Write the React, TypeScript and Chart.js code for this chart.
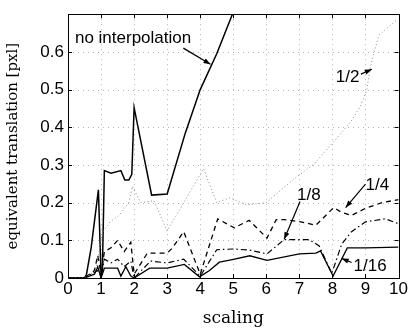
import React, { useEffect, useRef } from "react";
import { Chart, registerables } from "chart.js";

Chart.register(...registerables);

// ---- data ----
const xTickValues = [0, 1, 2, 3, 4, 5, 6, 7, 8, 9, 10];
const yTickValues = [0, 0.1, 0.2, 0.3, 0.4, 0.5, 0.6, 0.7];

const noInterpX = [0, 0.5, 0.56, 0.7, 0.92, 1.0, 1.04, 1.1, 1.3, 1.6, 1.72, 1.84, 1.93, 2.0, 2.53, 3.0, 3.55, 4.0, 4.5, 5.2];
const noInterpY = [0, 0, 0.01, 0.08, 0.234, 0.005, 0.02, 0.285, 0.278, 0.285, 0.26, 0.26, 0.275, 0.452, 0.22, 0.223, 0.385, 0.5, 0.595, 0.75];

const halfX = [0, 0.5, 0.84, 1.04, 1.27, 1.54, 1.84, 1.95, 2.2, 2.6, 3.0, 3.5, 4.1, 4.5, 4.9, 5.4, 6.0, 6.5, 6.93, 7.44, 8.04, 8.55, 8.85, 9.04, 9.15, 9.4, 9.95];
const halfY = [0, 0, 0.02, 0.12, 0.149, 0.166, 0.2, 0.243, 0.2, 0.205, 0.125, 0.2, 0.29, 0.2, 0.213, 0.194, 0.2, 0.238, 0.269, 0.302, 0.362, 0.414, 0.456, 0.5, 0.56, 0.644, 0.685];

const quarterX = [0, 0.5, 0.8, 0.9, 1.0, 1.1, 1.3, 1.5, 1.7, 1.9, 2.0, 2.4, 3.0, 3.16, 3.5, 4.0, 4.53, 5.03, 5.48, 6.02, 6.3, 6.54, 7.04, 7.5, 8.04, 8.28, 8.58, 9.0, 9.5, 10];
const quarterY = [0, 0, 0.02, 0.06, 0.01, 0.07, 0.08, 0.1, 0.07, 0.095, 0.01, 0.066, 0.066, 0.08, 0.123, 0.01, 0.157, 0.133, 0.153, 0.106, 0.155, 0.155, 0.149, 0.14, 0.187, 0.174, 0.166, 0.185, 0.2, 0.208];

const eighthX = [0, 0.5, 0.9, 1.0, 1.1, 1.3, 1.5, 1.7, 1.9, 2.0, 2.5, 3.0, 3.5, 4.0, 4.5, 5.0, 5.5, 6.02, 6.54, 7.0, 7.3, 7.6, 7.98, 8.28, 8.58, 9.0, 9.6, 10];
const eighthY = [0, 0, 0.02, 0.005, 0.05, 0.04, 0.05, 0.03, 0.045, 0.0, 0.045, 0.04, 0.05, 0.005, 0.075, 0.077, 0.074, 0.064, 0.102, 0.102, 0.102, 0.085, 0.012, 0.09, 0.123, 0.149, 0.157, 0.144];

const sixteenthX = [0, 0.5, 0.8, 0.9, 1.0, 1.1, 1.5, 1.6, 1.75, 1.9, 2.0, 2.47, 3.0, 3.52, 3.98, 4.28, 4.58, 4.97, 5.5, 6.02, 7.0, 7.5, 7.64, 8.02, 8.45, 9.0, 10];
const sixteenthY = [0, 0, 0.01, 0.03, 0.0, 0.026, 0.026, 0.005, 0.03, 0.005, 0.0, 0.026, 0.026, 0.036, 0.003, 0.02, 0.042, 0.049, 0.059, 0.047, 0.064, 0.066, 0.072, 0.005, 0.08, 0.08, 0.082];

// annotations (data coordinates)
const noteTexts = ["no interpolation", "1/2", "1/4", "1/8", "1/16"];
const noteX = [0.21, 8.1, 9.0, 6.93, 8.64];
const noteY = [0.623, 0.52, 0.233, 0.208, 0.018];
const arrowFromX = [3.49, 8.86, 9.0, 7.02, 8.58];
const arrowFromY = [0.61, 0.541, 0.249, 0.203, 0.041];
const arrowToX = [4.31, 9.19, 8.4, 6.54, 8.28];
const arrowToY = [0.567, 0.554, 0.187, 0.103, 0.052];

const toPts = (xs: number[], ys: number[]) => xs.map((x, i) => ({ x, y: ys[i] }));

const framePlugin = {
  id: "matlabFrame",
  beforeDatasetsDraw(chart: any) {
    const { ctx, chartArea: a, scales } = chart;
    const xs = scales.x;
    const ys = scales.y;
    ctx.save();
    ctx.strokeStyle = "#b4b4b4";
    ctx.lineWidth = 1;
    ctx.setLineDash([1, 4]);
    xTickValues.forEach((v) => {
      if (v === 0 || v === 10) return;
      const px = Math.round(xs.getPixelForValue(v)) + 0.5;
      ctx.beginPath();
      ctx.moveTo(px, a.top);
      ctx.lineTo(px, a.bottom);
      ctx.stroke();
    });
    yTickValues.forEach((v) => {
      if (v === 0 || v >= 0.7) return;
      const py = Math.round(ys.getPixelForValue(v)) + 0.5;
      ctx.beginPath();
      ctx.moveTo(a.left, py);
      ctx.lineTo(a.right, py);
      ctx.stroke();
    });
    ctx.restore();
  },
  afterDatasetsDraw(chart: any) {
    const { ctx, chartArea: a, scales } = chart;
    const xs = scales.x;
    const ys = scales.y;
    ctx.save();
    ctx.setLineDash([]);
    ctx.strokeStyle = "#000";
    ctx.lineWidth = 1;
    ctx.strokeRect(Math.round(a.left) + 0.5, Math.round(a.top) + 0.5, Math.round(a.right - a.left), Math.round(a.bottom - a.top));
    const tl = 4;
    xTickValues.forEach((v) => {
      const px = Math.round(xs.getPixelForValue(v)) + 0.5;
      ctx.beginPath();
      ctx.moveTo(px, a.bottom);
      ctx.lineTo(px, a.bottom - tl);
      ctx.moveTo(px, a.top);
      ctx.lineTo(px, a.top + tl);
      ctx.stroke();
    });
    yTickValues.forEach((v) => {
      const py = Math.round(ys.getPixelForValue(v)) + 0.5;
      ctx.beginPath();
      ctx.moveTo(a.left, py);
      ctx.lineTo(a.left + tl, py);
      ctx.moveTo(a.right, py);
      ctx.lineTo(a.right - tl, py);
      ctx.stroke();
    });
    // annotations
    ctx.fillStyle = "#000";
    ctx.font = "17px 'Liberation Sans', Arial, sans-serif";
    ctx.textBaseline = "alphabetic";
    ctx.textAlign = "left";
    noteTexts.forEach((t, i) => {
      ctx.fillText(t, xs.getPixelForValue(noteX[i]), ys.getPixelForValue(noteY[i]));
      const x1 = xs.getPixelForValue(arrowFromX[i]);
      const y1 = ys.getPixelForValue(arrowFromY[i]);
      const x2 = xs.getPixelForValue(arrowToX[i]);
      const y2 = ys.getPixelForValue(arrowToY[i]);
      ctx.lineWidth = 1.2;
      ctx.beginPath();
      ctx.moveTo(x1, y1);
      ctx.lineTo(x2, y2);
      ctx.stroke();
      const ang = Math.atan2(y2 - y1, x2 - x1);
      const L = 7;
      const W = 2.6;
      ctx.beginPath();
      ctx.moveTo(x2, y2);
      ctx.lineTo(x2 - L * Math.cos(ang) + W * Math.sin(ang), y2 - L * Math.sin(ang) - W * Math.cos(ang));
      ctx.lineTo(x2 - L * Math.cos(ang) - W * Math.sin(ang), y2 - L * Math.sin(ang) + W * Math.cos(ang));
      ctx.closePath();
      ctx.fill();
    });
    ctx.restore();
  },
};

export default function App() {
  const ref = useRef<HTMLCanvasElement | null>(null);
  useEffect(() => {
    if (!ref.current) return;
    const chart = new Chart(ref.current, {
      type: "line",
      data: {
        datasets: [
          { label: "1/2", data: toPts(halfX, halfY), borderColor: "#8a8a8a", borderWidth: 1, borderDash: [1, 2.5], pointRadius: 0, tension: 0, fill: false },
          { label: "1/16", data: toPts(sixteenthX, sixteenthY), borderColor: "#000", borderWidth: 1.3, pointRadius: 0, tension: 0, fill: false },
          { label: "1/8", data: toPts(eighthX, eighthY), borderColor: "#000", borderWidth: 1.2, borderDash: [6, 3, 1.5, 3], pointRadius: 0, tension: 0, fill: false },
          { label: "1/4", data: toPts(quarterX, quarterY), borderColor: "#000", borderWidth: 1.3, borderDash: [5, 4], pointRadius: 0, tension: 0, fill: false },
          { label: "no interpolation", data: toPts(noInterpX, noInterpY), borderColor: "#000", borderWidth: 1.5, pointRadius: 0, tension: 0, fill: false },
        ],
      },
      options: {
        animation: false,
        responsive: false,
        maintainAspectRatio: false,
        layout: { padding: { top: 5, right: 9, left: 0, bottom: 0 } },
        plugins: { legend: { display: false }, tooltip: { enabled: false } },
        scales: {
          x: {
            type: "linear",
            min: 0,
            max: 10,
            afterFit: (s: any) => { s.height = 51; },
            afterBuildTicks: (s: any) => { s.ticks = xTickValues.map((v) => ({ value: v })); },
            ticks: { color: "#000", padding: 1, font: { family: "'Liberation Sans', Arial, sans-serif", size: 17 }, callback: (v: any) => String(v) },
            grid: { display: false, drawTicks: false },
            border: { display: false },
            title: { display: true, text: "scaling", color: "#000", padding: { top: 1, bottom: 0 }, font: { family: "'DejaVu Serif', serif", size: 17 } },
          },
          y: {
            type: "linear",
            min: 0,
            max: 0.7,
            afterFit: (s: any) => { s.width = 68; },
            afterBuildTicks: (s: any) => { s.ticks = yTickValues.map((v) => ({ value: v })); },
            ticks: {
              color: "#000",
              padding: 4,
              font: { family: "'Liberation Sans', Arial, sans-serif", size: 17 },
              callback: (v: any) => (v >= 0.69 ? "" : v === 0 ? "0" : Number(v).toFixed(1)),
            },
            grid: { display: false, drawTicks: false },
            border: { display: false },
            title: { display: true, text: "equivalent translation [pxl]", color: "#000", padding: { top: 4, bottom: 0 }, font: { family: "'DejaVu Serif', serif", size: 15 } },
          },
        },
      },
      plugins: [framePlugin],
    } as any);
    return () => chart.destroy();
  }, []);
  return (
    <div style={{ position: "absolute", left: 0, top: 0, width: 409, height: 329 }}>
      <canvas ref={ref} width={409} height={329} />
    </div>
  );
}
